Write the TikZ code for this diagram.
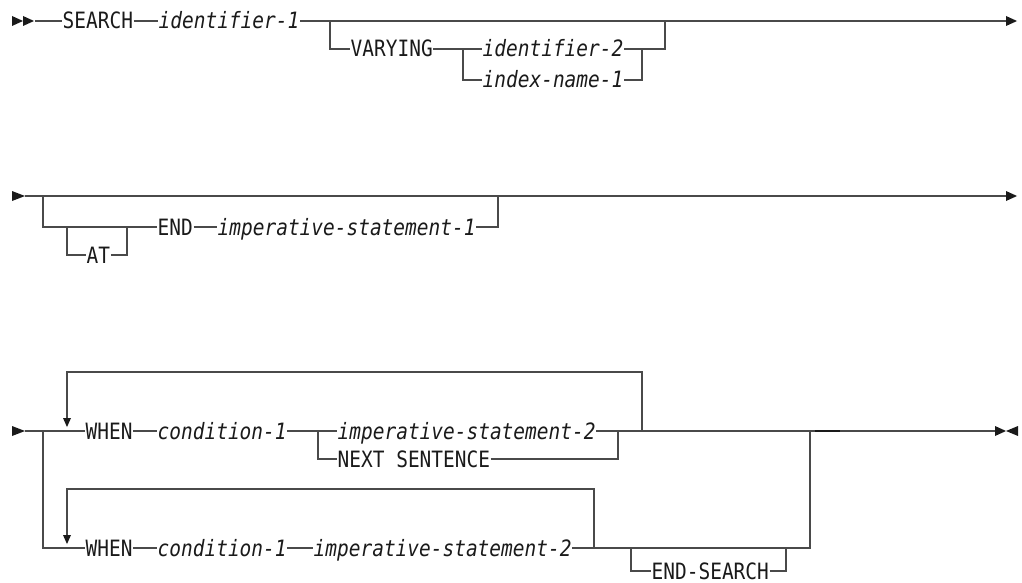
\documentclass[tikz,border=0pt]{standalone}
\usepackage{fontspec}
\newfontfamily\dmono[FakeStretch=0.865]{DejaVu Sans Mono}
\definecolor{linecol}{HTML}{4A4A4A}
\definecolor{txtcol}{HTML}{1A1A1A}
\tikzset{
  ln/.style={draw=linecol, line width=1.4pt},
  kw/.style={anchor=west, inner xsep=0.5pt, inner ysep=0pt, text height=16pt, text depth=0pt,
             font=\dmono\fontsize{22.5}{26}\selectfont, text=txtcol},
  var/.style={kw, font=\dmono\itshape\fontsize{22.5}{26}\selectfont},
  tipfill/.style={fill=txtcol, draw=none}
}
\begin{document}
\begin{tikzpicture}[x=1pt,y=-1pt]
\useasboundingbox (0,0) rectangle (1022,583);
% ---------- row 1 ----------
\fill[tipfill] (12,16) -- (23,21) -- (12,26) -- cycle;
\fill[tipfill] (23,16) -- (34,21) -- (23,26) -- cycle;
\coordinate (r1s) at (35,21);
\node[kw]  (search) at (62,21)  {SEARCH};
\node[var] (id1)    at (158,21) {identifier-1};
\coordinate (j1)  at (330,21);
\coordinate (j1b) at (330,49);
\node[kw]  (vary) at (350,49) {VARYING};
\coordinate (j2)  at (463,49);
\coordinate (j2b) at (463,80);
\node[var] (id2) at (482,49) {identifier-2};
\node[var] (ix1) at (482,80) {index-name-1};
\coordinate (j3)  at (642,49);
\coordinate (j3b) at (642,80);
\coordinate (j4)  at (665,21);
\coordinate (j4b) at (665,49);
\coordinate (r1e) at (1006,21);
\draw[ln] (r1s) -- (search.west);
\draw[ln] (search.east) -- (id1.west);
\draw[ln] (id1.east) -- (r1e);
\draw[ln] (j1) -- (j1b) -- (vary.west);
\draw[ln] (vary.east) -- (id2.west);
\draw[ln] (j2) -- (j2b) -- (ix1.west);
\draw[ln] (id2.east) -- (j4b) -- (j4);
\draw[ln] (ix1.east) -- (j3b) -- (j3);
\fill[tipfill] (1006,16) -- (1017,21) -- (1006,26) -- cycle;
% ---------- row 2 ----------
\fill[tipfill] (12,191) -- (25,196) -- (12,201) -- cycle;
\coordinate (r2s) at (25,196);
\coordinate (b1)  at (43,196);
\coordinate (b1b) at (43,227);
\coordinate (b2)  at (67,227);
\coordinate (b2b) at (67,255);
\node[kw] (at) at (86,255) {AT};
\coordinate (b3b) at (127,255);
\coordinate (b3)  at (127,227);
\node[kw]  (end)  at (157,227) {END};
\node[var] (imp1) at (217,227) {imperative-statement-1};
\coordinate (b4b) at (498,227);
\coordinate (b4)  at (498,196);
\coordinate (r2e) at (1006,196);
\draw[ln] (r2s) -- (r2e);
\draw[ln] (b1) -- (b1b) -- (end.west);
\draw[ln] (b2) -- (b2b) -- (at.west);
\draw[ln] (at.east) -- (b3b) -- (b3);
\draw[ln] (end.east) -- (imp1.west);
\draw[ln] (imp1.east) -- (b4b) -- (b4);
\fill[tipfill] (1006,191) -- (1017,196) -- (1006,201) -- cycle;
% ---------- row 3 ----------
\fill[tipfill] (12,426) -- (25,431) -- (12,436) -- cycle;
\coordinate (r3s) at (25,431);
\coordinate (c1)  at (43,431);
\coordinate (c1b) at (43,548);
\coordinate (l1t)   at (67,372);
\coordinate (l1tip) at (67,418);
\coordinate (l1r)   at (642,372);
\coordinate (l1rb)  at (642,431);
\node[kw]  (when1) at (85,431)  {WHEN};
\node[var] (cond1) at (157,431) {condition-1};
\coordinate (c2)  at (318,431);
\coordinate (c2b) at (318,459);
\node[var] (imp2) at (337,431) {imperative-statement-2};
\node[kw]  (ns)   at (337,459) {NEXT SENTENCE};
\coordinate (c3)  at (618,431);
\coordinate (c3b) at (618,459);
\coordinate (c4)  at (810,431);
\coordinate (c4b) at (810,548);
\coordinate (r3e) at (996,431);
\node[kw]  (when2) at (85,548)  {WHEN};
\node[var] (cond2) at (157,548) {condition-1};
\node[var] (imp3)  at (313,548) {imperative-statement-2};
\coordinate (l2t)   at (67,489);
\coordinate (l2tip) at (67,535);
\coordinate (l2r)   at (594,489);
\coordinate (l2rb)  at (594,548);
\coordinate (c5)  at (631,548);
\coordinate (c5b) at (631,571);
\node[kw] (es) at (651,571) {END-SEARCH};
\coordinate (c6b) at (786,571);
\coordinate (c6)  at (786,548);
\draw[ln] (r3s) -- (when1.west);
\draw[ln] (c1) -- (c1b) -- (when2.west);
\draw[ln] (when1.east) -- (cond1.west);
\draw[ln] (cond1.east) -- (imp2.west);
\draw[ln] (c2) -- (c2b) -- (ns.west);
\draw[ln] (imp2.east) -- (r3e);
\draw[ln] (ns.east) -- (c3b) -- (c3);
\draw[ln] (l1rb) -- (l1r) -- (l1t) -- (l1tip);
\fill[tipfill] (63,418) -- (71,418) -- (67,427) -- cycle;
\draw[ln] (when2.east) -- (cond2.west);
\draw[ln] (cond2.east) -- (imp3.west);
\draw[ln] (imp3.east) -- (c4b) -- (c4);
\draw[ln] (l2rb) -- (l2r) -- (l2t) -- (l2tip);
\fill[tipfill] (63,535) -- (71,535) -- (67,544) -- cycle;
\draw[ln] (c5) -- (c5b) -- (es.west);
\draw[ln] (es.east) -- (c6b) -- (c6);
\draw[draw=txtcol, line width=2.4pt] (815,431) -- (840,431);
\fill[tipfill] (995,426) -- (1006,431) -- (995,436) -- cycle;
\fill[tipfill] (1018,426) -- (1006,431) -- (1018,436) -- cycle;
\end{tikzpicture}
\end{document}
